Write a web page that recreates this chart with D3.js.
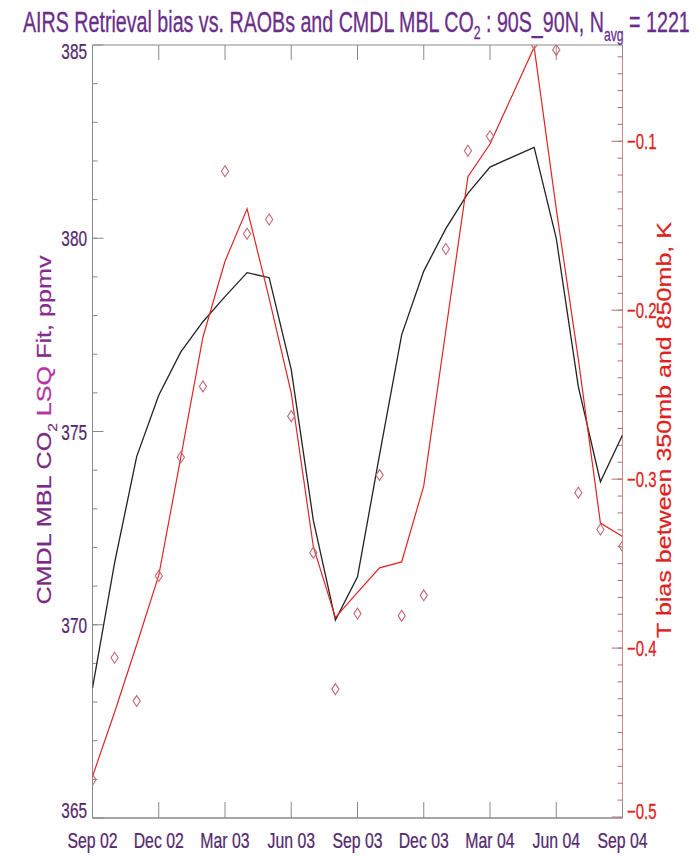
<!DOCTYPE html>
<html><head><meta charset="utf-8">
<script src="https://cdn.jsdelivr.net/npm/d3@7"></script>
<style>body{margin:0;background:#fff}svg{display:block}</style>
</head><body>
<svg id="c" width="697" height="857"></svg>
<script>
// ---- data ----
const months = ["Sep 02","Oct 02","Nov 02","Dec 02","Jan 03","Feb 03","Mar 03","Apr 03","May 03","Jun 03","Jul 03","Aug 03","Sep 03","Oct 03","Nov 03","Dec 03","Jan 04","Feb 04","Mar 04","Apr 04","May 04","Jun 04","Jul 04","Aug 04","Sep 04"];
const tickLabels = ["Sep 02","Dec 02","Mar 03","Jun 03","Sep 03","Dec 03","Mar 04","Jun 04","Sep 04"];
const co2Fit = [368.36,371.6,374.35,375.94,377.06,377.84,378.49,379.11,378.98,376.6,372.7,370.12,371.24,374.4,377.5,379.15,380.25,381.16,381.84,382.1,382.35,380.0,376.16,373.70,374.91];
const tBiasSmooth = [-0.476,-0.438,-0.398,-0.357,-0.287,-0.216,-0.171,-0.140,-0.193,-0.249,-0.340,-0.382,-0.367,-0.3525,-0.349,-0.304,-0.212,-0.121,-0.1016,-0.073,-0.0443,-0.140,-0.229,-0.326,-0.334];
const tBiasMonthly = [-0.478,-0.4057,-0.4314,-0.3573,-0.287,-0.2451,-0.1177,-0.1547,-0.1463,-0.2627,-0.3436,-0.4243,-0.3796,-0.2976,-0.3808,-0.3688,-0.1638,-0.1056,-0.0970,null,-0.0423,-0.0459,-0.308,-0.3298,-0.3397];
const leftTicks = [365,370,375,380,385];
const leftMinor = d3.range(366,385);
const rightTicks = [-0.5,-0.4,-0.3,-0.2,-0.1];
const rightMinor = d3.range(-49,-4).map(v=>v/100);

// ---- layout ----
const L=92.5, R=622.5, T=45, B=818;
const svg = d3.select("#c");
const x = d3.scalePoint().domain(months).range([L,R]);
const yL = d3.scaleLinear().domain([365,385]).range([B,T]);
const yR = d3.scaleLinear().domain([-0.5,-0.043]).range([817,T]);

const FONT = "'Liberation Sans', Arial, Helvetica, sans-serif";
const purple = "#6b2d8b", tickPurple = "#54286e", red = "#e02020";

function fitText(parent, px, py, rot, anchor, size, color, build, target, sx, bold){
  const g = parent.append("g").attr("transform",`translate(${px},${py}) rotate(${rot})`);
  const inner = g.append("g");
  const t = inner.append("text").attr("text-anchor",anchor).attr("font-family",FONT)
    .attr("font-size",size).attr("fill",color);
  if(bold){ t.attr("stroke",color).attr("stroke-width",bold); }
  build(t);
  let s = sx;
  if(target){ const w = t.node().getBBox().width; s = target / w; }
  inner.attr("transform",`scale(${s},1)`);
  return t;
}

// clip
svg.append("defs").append("clipPath").attr("id","pc").append("rect")
  .attr("x",L).attr("y",T).attr("width",R-L).attr("height",B-T);

// frame
const gray="#8a8a8a";
svg.append("line").attr("x1",L).attr("x2",R).attr("y1",T).attr("y2",T).attr("stroke",gray);
svg.append("line").attr("x1",L).attr("x2",R).attr("y1",B).attr("y2",B).attr("stroke",gray).attr("stroke-width",1.4);
svg.append("line").attr("x1",L).attr("x2",L).attr("y1",T).attr("y2",B).attr("stroke",gray);
svg.append("line").attr("x1",R).attr("x2",R).attr("y1",T).attr("y2",B).attr("stroke","#d08888");

// x ticks
tickLabels.forEach(m=>{
  const xx = x(m);
  svg.append("line").attr("x1",xx).attr("x2",xx).attr("y1",B).attr("y2",B-16).attr("stroke",gray);
  svg.append("line").attr("x1",xx).attr("x2",xx).attr("y1",T).attr("y2",T+15).attr("stroke",gray);
  fitText(svg, xx, 848, 0, "middle", 22, tickPurple, t=>t.text(m), null, 0.72, 0.25);
});

// left ticks
leftMinor.forEach(v=>{
  svg.append("line").attr("x1",L).attr("x2",L+5).attr("y1",yL(v)).attr("y2",yL(v)).attr("stroke",gray);
});
leftTicks.forEach(v=>{
  svg.append("line").attr("x1",L).attr("x2",L+11).attr("y1",yL(v)).attr("y2",yL(v)).attr("stroke",gray);
  const off = v===385 ? 6 : (v===365 ? -8 : 0);
  fitText(svg, 87, yL(v)+off+8, 0, "end", 22, tickPurple, t=>t.text(v), null, 0.70, 0.25);
});

// right ticks
rightMinor.forEach(v=>{
  svg.append("line").attr("x1",R).attr("x2",R-5).attr("y1",yR(v)).attr("y2",yR(v)).attr("stroke","#b07070");
});
rightTicks.forEach(v=>{
  svg.append("line").attr("x1",R).attr("x2",R-11).attr("y1",yR(v)).attr("y2",yR(v)).attr("stroke","#b07070");
  const off = v===-0.5 ? -6 : 0;
  fitText(svg, 627, yR(v)+off+8, 0, "start", 22, red, t=>t.text(d3.format(".1f")(v)), null, 0.68, 0.25);
});

// data
const plot = svg.append("g").attr("clip-path","url(#pc)");
const lineL = d3.line().x((d,i)=>x(months[i])).y(d=>yL(d));
const lineR = d3.line().x((d,i)=>x(months[i])).y(d=>yR(d));
plot.append("path").attr("d",lineL(co2Fit)).attr("fill","none").attr("stroke","#222").attr("stroke-width",1.3);
plot.append("path").attr("d",lineR(tBiasSmooth)).attr("fill","none").attr("stroke","#e02424").attr("stroke-width",1.2);
tBiasMonthly.forEach((v,i)=>{
  if(v===null) return;
  const cx = x(months[i]), cy = yR(v);
  plot.append("path").attr("d",`M${cx},${cy-5.5}L${cx+3.6},${cy}L${cx},${cy+5.5}L${cx-3.6},${cy}Z`)
    .attr("fill","none").attr("stroke","#c46a78").attr("stroke-width",1.1);
});

// title
fitText(svg, 23, 32, 0, "start", 29, purple, t=>{
  t.append("tspan").text("AIRS Retrieval bias vs. RAOBs and CMDL MBL CO");
  t.append("tspan").attr("font-size",18).attr("dy",7).text("2");
  t.append("tspan").attr("dy",-7).text(" : 90S_90N, N");
  t.append("tspan").attr("font-size",18).attr("dy",9).text("avg");
  t.append("tspan").attr("dy",-9).text(" = 1221");
}, 667, null, 0.3);

// left axis label
fitText(svg, 51, 430, -90, "middle", 21, "#7a2a86", t=>{
  t.append("tspan").text("CMDL MBL CO");
  t.append("tspan").attr("font-size",13).attr("dy",6).text("2");
  t.append("tspan").attr("dy",-6).attr("fill","#c22fa6").text(" LSQ");
  t.append("tspan").attr("fill","#8a2a90").text(" Fit, ppmv");
}, 350, null, 0.2);

// right axis label
fitText(svg, 671, 430, -90, "middle", 21, red, t=>t.text("T bias between 350mb and 850mb, K"), 416, null, 0.2);
</script>
</body></html>
